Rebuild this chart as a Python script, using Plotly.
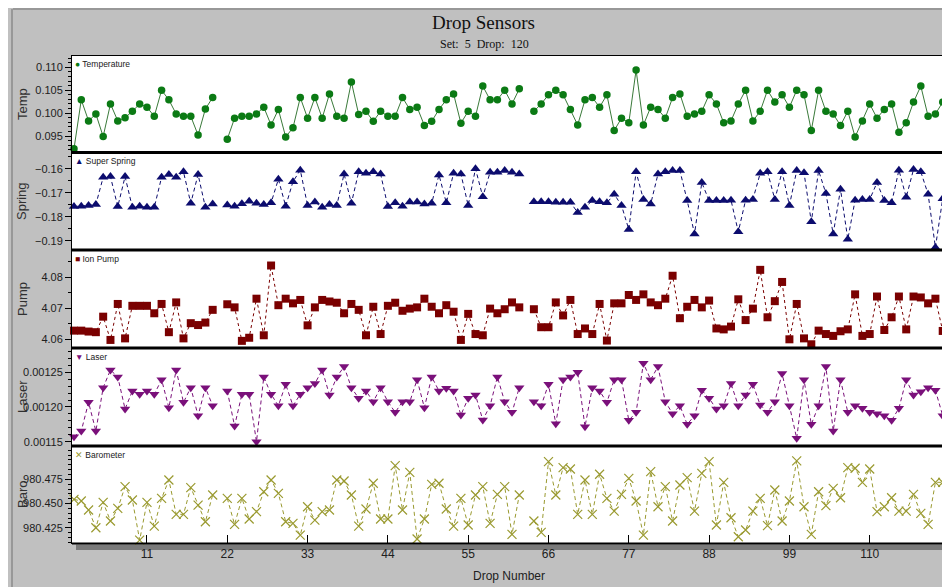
import plotly.graph_objects as go

W, H = 950, 587
PAGE_OFFSET = 8  # browser body margin

# ---------------- data ----------------
drops = list(range(1, 121))
x_ticks = [11, 22, 33, 44, 55, 66, 77, 88, 99, 110]

temperature = [
    0.0922, 0.1029, 0.0983, 0.0998, 0.0949, 0.1020, 0.0983, 0.0990, 0.1004, 0.1020,
    0.1013, 0.0993, 0.1050, 0.1029, 0.0998, 0.0993, 0.0993, 0.0952, 0.1009, 0.1034,
    None, 0.0943, 0.0989, 0.0993, 0.0993, 0.0998, 0.1013, 0.0974, 0.1008, 0.0948,
    0.0968, 0.1034, 0.0989, 0.1034, 0.0989, 0.1042, 0.0993, 0.0989, 0.1068, 0.0997,
    0.1004, 0.0982, 0.1004, 0.0993, 0.0993, 0.1034, 0.1008, 0.1013, 0.0973, 0.0982,
    0.1008, 0.1029, 0.1042, 0.0978, 0.1004, 0.0993, 0.1059, 0.1029, 0.1029, 0.1050,
    0.1020, 0.1053, None, 0.1004, 0.1020, 0.1040, 0.1050, 0.1040, 0.1008, 0.0974,
    0.1029, 0.1034, 0.1013, 0.1040, 0.0962, 0.0989, 0.0979, 0.1094, 0.0974, 0.1013,
    0.1008, 0.0989, 0.1034, 0.1042, 0.0993, 0.0998, 0.1004, 0.1040, 0.1020, 0.0979,
    0.0983, 0.1020, 0.1050, 0.0983, 0.1004, 0.1050, 0.1024, 0.1040, 0.1013, 0.1050,
    0.1040, 0.0962, 0.1050, 0.1004, 0.0998, 0.0973, 0.1004, 0.0948, 0.0983, 0.1020,
    0.0989, 0.1008, 0.1020, 0.0958, 0.0979, 0.1024, 0.1059, 0.0993, 0.0998, 0.1024,
]

super_spring = [
    -0.1758, -0.1756, -0.1753, -0.1749, -0.1636, -0.1633, -0.1758, -0.1633, -0.1761, -0.1756,
    -0.1761, -0.1761, -0.1636, -0.1624, -0.1636, -0.1613, -0.1744, -0.1624, -0.1761, -0.1747,
    None, -0.1751, -0.1756, -0.1746, -0.1736, -0.1744, -0.1749, -0.1742, -0.1644, -0.1756,
    -0.1654, -0.1606, -0.1753, -0.1739, -0.1761, -0.1749, -0.1753, -0.1622, -0.1744, -0.1613,
    -0.1619, -0.1613, -0.1622, -0.1758, -0.1742, -0.1756, -0.1739, -0.1739, -0.1747, -0.1744,
    -0.1626, -0.1742, -0.1619, -0.1622, -0.1753, -0.1600, -0.1717, -0.1615, -0.1615, -0.1608,
    -0.1615, -0.1622, None, -0.1738, -0.1738, -0.1738, -0.1740, -0.1740, -0.1740, -0.1783,
    -0.1761, -0.1733, -0.1738, -0.1742, -0.1706, -0.1753, -0.1853, -0.1613, -0.1728, -0.1747,
    -0.1622, -0.1613, -0.1608, -0.1608, -0.1733, -0.1872, -0.1658, -0.1733, -0.1733, -0.1733,
    -0.1731, -0.1863, -0.1731, -0.1728, -0.1619, -0.1613, -0.1728, -0.1613, -0.1753, -0.1608,
    -0.1617, -0.1821, -0.1608, -0.1703, -0.1872, -0.1686, -0.1894, -0.1731, -0.1728, -0.1728,
    -0.1658, -0.1733, -0.1742, -0.1606, -0.1719, -0.1603, -0.1613, -0.1706, -0.1928, -0.1725,
]

ion_pump = [
    4.0628, 4.0628, 4.0625, 4.0623, 4.0673, 4.0598, 4.0714, 4.0603, 4.0708, 4.0708,
    4.0708, 4.0684, 4.0714, 4.0623, 4.0719, 4.0603, 4.0652, 4.0646, 4.0654, 4.0695,
    None, 4.0713, 4.0703, 4.0595, 4.0605, 4.0731, 4.0613, 4.0838, 4.0710, 4.0731,
    4.0716, 4.0727, 4.0645, 4.0703, 4.0727, 4.0722, 4.0718, 4.0684, 4.0714, 4.0695,
    4.0613, 4.0705, 4.0617, 4.0708, 4.0718, 4.0692, 4.0699, 4.0703, 4.0731, 4.0705,
    4.0684, 4.0710, 4.0689, 4.0598, 4.0682, 4.0617, 4.0613, 4.0699, 4.0684, 4.0697,
    4.0719, 4.0703, None, 4.0697, 4.0639, 4.0639, 4.0719, 4.0677, 4.0727, 4.0617,
    4.0635, 4.0617, 4.0714, 4.0596, 4.0716, 4.0716, 4.0743, 4.0727, 4.0745, 4.0719,
    4.0710, 4.0731, 4.0805, 4.0668, 4.0705, 4.0727, 4.0703, 4.0725, 4.0635, 4.0632,
    4.0641, 4.0729, 4.0662, 4.0699, 4.0824, 4.0671, 4.0723, 4.0785, 4.0600, 4.0714,
    4.0603, 4.0584, 4.0628, 4.0617, 4.0611, 4.0626, 4.0632, 4.0745, 4.0611, 4.0617,
    4.0738, 4.0630, 4.0671, 4.0738, 4.0632, 4.0738, 4.0735, 4.0716, 4.0731, 4.0627,
]

laser = [
    0.0011572, 0.0011654, 0.0012067, 0.0011654, 0.0012279, 0.0012534, 0.0012433, 0.0011971, 0.0012231, 0.0012183,
    0.0012231, 0.0012183, 0.0012394, 0.0011990, 0.0012534, 0.0012067, 0.0012279, 0.0011875, 0.0012279, 0.0012019,
    None, 0.0012231, 0.0011726, 0.0012183, 0.0012183, 0.0011500, 0.0012433, 0.0012183, 0.0012019, 0.0012327,
    0.0012019, 0.0012183, 0.0012279, 0.0012337, 0.0012534, 0.0012173, 0.0012433, 0.0012582, 0.0012279, 0.0012125,
    0.0012231, 0.0012077, 0.0012279, 0.0012077, 0.0011923, 0.0012077, 0.0012077, 0.0012394, 0.0011990, 0.0012433,
    0.0012231, 0.0012269, 0.0012231, 0.0011885, 0.0012125, 0.0012173, 0.0011812, 0.0012019, 0.0012433, 0.0012077,
    0.0011923, 0.0012279, None, 0.0012077, 0.0012019, 0.0012327, 0.0011760, 0.0012394, 0.0012433, 0.0012500,
    0.0011716, 0.0012279, 0.0012231, 0.0012067, 0.0012394, 0.0012394, 0.0011808, 0.0011923, 0.0012630, 0.0012394,
    0.0012582, 0.0012077, 0.0011904, 0.0012019, 0.0011750, 0.0011875, 0.0012240, 0.0012125, 0.0011971, 0.0012019,
    0.0012337, 0.0012019, 0.0012173, 0.0012327, 0.0012029, 0.0011923, 0.0012077, 0.0012481, 0.0012019, 0.0011548,
    0.0012394, 0.0011750, 0.0012019, 0.0012582, 0.0011654, 0.0012394, 0.0011923, 0.0012019, 0.0011981, 0.0011923,
    0.0011904, 0.0011875, 0.0011808, 0.0011981, 0.0012394, 0.0012173, 0.0012221, 0.0012279, 0.0012240, 0.0011875,
]

barometer = [
    980.4543, 980.4526, 980.4433, 980.4250, 980.4512, 980.4319, 980.4450, 980.4674, 980.4536, 980.4122,
    980.4512, 980.4267, 980.4553, 980.4743, 980.4388, 980.4388, 980.4664, 980.4484, 980.4312, 980.4588,
    None, 980.4553, 980.4284, 980.4553, 980.4340, 980.4416, 980.4622, 980.4743, 980.4605, 980.4312,
    980.4295, 980.4174, 980.4467, 980.4329, 980.4416, 980.4433, 980.4743, 980.4733, 980.4588, 980.4267,
    980.4443, 980.4709, 980.4340, 980.4340, 980.4891, 980.4433, 980.4822, 980.4133, 980.4340, 980.4698,
    980.4709, 980.4443, 980.4267, 980.4553, 980.4278, 980.4588, 980.4674, 980.4295, 980.4595, 980.4674,
    980.4181, 980.4588, None, 980.4319, 980.4202, 980.4933, 980.4588, 980.4871, 980.4857, 980.4388,
    980.4743, 980.4388, 980.4802, 980.4553, 980.4422, 980.4595, 980.4760, 980.4526, 980.4174, 980.4829,
    980.4467, 980.4674, 980.4319, 980.4691, 980.4767, 980.4422, 980.4812, 980.4933, 980.4278, 980.4719,
    980.4353, 980.4157, 980.4226, 980.4422, 980.4553, 980.4271, 980.4640, 980.4319, 980.4526, 980.4940,
    980.4467, 980.4181, 980.4622, 980.4478, 980.4657, 980.4560, 980.4871, 980.4864, 980.4719, 980.4857,
    980.4416, 980.4467, 980.4560, 980.4422, 980.4422, 980.4595, 980.4398, 980.4284, 980.4719, 980.4719,
]

series_names = ["Temperature", "Super Spring", "Ion Pump", "Laser", "Barometer"]
axis_titles = ["Temp", "Spring", "Pump", "Laser", "Baro"]
series_values = [temperature, super_spring, ion_pump, laser, barometer]

temp_ticks = [0.095, 0.100, 0.105, 0.110]
spring_ticks = [-0.19, -0.18, -0.17, -0.16]
pump_ticks = [4.06, 4.07, 4.08]
laser_ticks = [0.00115, 0.00120, 0.00125]
baro_ticks = [980.425, 980.450, 980.475]
y_tickvals = [temp_ticks, spring_ticks, pump_ticks, laser_ticks, baro_ticks]

# ---------------- styles / layout ----------------
styles = [
    dict(color="#0b7a14", symbol="circle", size=7.5, dash="solid", lcolor="#3a7a3a", glyph="●"),
    dict(color="#0c0c6e", symbol="triangle-up", size=9, dash="4px,3px", lcolor="#0c0c6e", glyph="▲"),
    dict(color="#7a0000", symbol="square", size=8, dash="3px,3px", lcolor="#7a0000", glyph="■"),
    dict(color="#7a107a", symbol="triangle-down", size=9, dash="4px,3px", lcolor="#7a107a", glyph="▼"),
    dict(color="#9a9a30", symbol="x-thin", size=9, dash="4px,3px", lcolor="#9a9a30", glyph="✕"),
]
# screen-pixel extents (top, bottom) of each panel in the reference
panel_px = [(56, 152), (153, 249), (251, 347), (349, 445), (447, 543)]
yranges = [
    [0.09151, 0.11247],
    [-0.19346, -0.15346],
    [4.05752, 4.08848],
    [0.0011452, 0.0012836],
    [980.4092, 980.5084],
]
yminor = [0.001, 0.005, 0.005, 0.00001, 0.005]
yminor0 = [0, 0, 4.0, 0, 980.0]
yfmt = [".3f", ".2f", ".2f", ".5f", ".3f"]

X0, X1 = 72, 946
xrange = [0.73, 120.45]


def fx(p):
    return (p - PAGE_OFFSET) / W


def fy(p):
    return 1 - (p - PAGE_OFFSET) / H


fig = go.Figure()
layout = dict(
    width=W, height=H,
    margin=dict(l=0, r=0, t=0, b=0, autoexpand=False),
    paper_bgcolor="#c0c0c0",
    plot_bgcolor="white",
    showlegend=False,
    font=dict(family="Liberation Sans, Arial, sans-serif", size=11, color="#202020"),
)

annotations = []
shapes = []

for i in range(5):
    n = i + 1
    xa = "x" if n == 1 else f"x{n}"
    ya = "y" if n == 1 else f"y{n}"
    st = styles[i]
    fig.add_trace(go.Scatter(
        x=drops, y=series_values[i], xaxis=xa, yaxis=ya,
        mode="lines+markers", name=series_names[i],
        line=dict(color=st["lcolor"], width=1, dash=st["dash"]),
        marker=dict(color=st["color"], symbol=st["symbol"], size=st["size"],
                    line=dict(color=st["color"], width=1.2 if st["symbol"] == "x-thin" else 0)),
        cliponaxis=False, connectgaps=False,
    ))
    top, bot = panel_px[i]
    xkey = "xaxis" if n == 1 else f"xaxis{n}"
    ykey = "yaxis" if n == 1 else f"yaxis{n}"
    last = (i == 4)
    layout[xkey] = dict(
        domain=[fx(X0), fx(X1)], anchor=ya, range=xrange, automargin=False,
        showgrid=False, zeroline=False,
        showline=True, mirror=True, linecolor="black", linewidth=1,
        tickmode="array", tickvals=x_ticks if last else [],
        ticks="inside" if last else "", ticklen=8, tickwidth=1, tickcolor="black",
        showticklabels=last, tickfont=dict(size=12, color="#202020"),
        matches=None if n == 1 else "x",
    )
    layout[ykey] = dict(
        domain=[fy(bot), fy(top)], anchor=xa, range=yranges[i], automargin=False,
        showgrid=False, zeroline=False,
        showline=True, mirror=True, linecolor="black", linewidth=1,
        tickmode="array", tickvals=y_tickvals[i], tickformat=yfmt[i],
        ticks="outside", ticklen=6, tickwidth=1, tickcolor="black",
        minor=dict(tickmode="linear", tick0=yminor0[i], dtick=yminor[i], ticks="outside",
                   ticklen=3, tickcolor="black", tickwidth=1),
        tickfont=dict(size=11, color="#202020"),
    )
    annotations.append(dict(
        xref="paper", yref="paper", x=fx(22), y=fy((top + bot) / 2),
        text=axis_titles[i], showarrow=False, textangle=-90,
        font=dict(size=13, color="#303030"), xanchor="center", yanchor="middle",
    ))
    annotations.append(dict(
        xref="paper", yref="paper", x=fx(73), y=fy(top + 1),
        text=f"<span style='color:{st['color']}'>{st['glyph']}</span> {series_names[i]}",
        showarrow=False, xanchor="left", yanchor="top",
        font=dict(size=8.5, color="#202020"),
    ))

for ypx in [152.5, 250, 348, 446]:
    shapes.append(dict(type="line", xref="paper", yref="paper",
                       x0=fx(X0), x1=fx(X1), y0=fy(ypx), y1=fy(ypx),
                       line=dict(color="black", width=3)))
shapes.append(dict(type="rect", xref="paper", yref="paper",
                   x0=fx(76), x1=fx(950), y0=fy(550), y1=fy(544.5),
                   fillcolor="#7a7a7a", line=dict(width=0), layer="below"))
shapes.append(dict(type="line", xref="paper", yref="paper",
                   x0=fx(X0), x1=fx(X1), y0=fy(543.5), y1=fy(543.5),
                   line=dict(color="black", width=2)))
shapes.append(dict(type="line", xref="paper", yref="paper",
                   x0=fx(13), x1=1, y0=fy(9), y1=fy(9), line=dict(color="#707070", width=1)))
shapes.append(dict(type="line", xref="paper", yref="paper",
                   x0=fx(12), x1=fx(12), y0=0, y1=fy(9), line=dict(color="#707070", width=1)))

annotations.append(dict(xref="paper", yref="paper", x=fx(483), y=fy(22),
                        text="Drop Sensors", showarrow=False,
                        font=dict(family="Liberation Serif, Times New Roman, serif", size=19, color="#101010"),
                        xanchor="center", yanchor="middle"))
annotations.append(dict(xref="paper", yref="paper", x=fx(484), y=fy(44),
                        text="Set:&nbsp;&nbsp;5&nbsp;&nbsp;Drop:&nbsp;&nbsp;120", showarrow=False,
                        font=dict(family="Liberation Serif, Times New Roman, serif", size=12, color="#101010"),
                        xanchor="center", yanchor="middle"))
annotations.append(dict(xref="paper", yref="paper", x=fx(509), y=fy(576),
                        text="Drop Number", showarrow=False,
                        font=dict(size=12, color="#202020"),
                        xanchor="center", yanchor="middle"))

layout["annotations"] = annotations
layout["shapes"] = shapes
fig.update_layout(**layout)
fig.write_html("out.html")
